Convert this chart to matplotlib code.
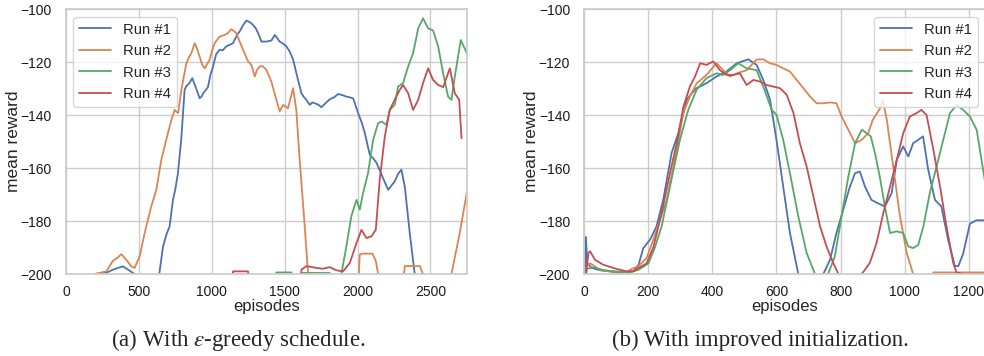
import matplotlib
matplotlib.use('Agg')
import matplotlib.pyplot as plt
import seaborn as sns

sns.set_theme(style='whitegrid')
plt.rcParams['font.family'] = ['Liberation Sans', 'DejaVu Sans']
plt.rcParams['mathtext.fontset'] = 'stix'

colors = ['#4C72B0', '#DD8452', '#55A868', '#C44E52']
labels = ['Run #1', 'Run #2', 'Run #3', 'Run #4']

# ---- (a) epsilon-greedy schedule: (episode, mean reward); values below -200 are off-axis
a_run1_x = [200, 277, 330, 391, 430, 471, 520, 620, 640, 666, 690, 711, 734, 750, 768, 791, 814, 826, 845, 867,
            880, 894, 917, 930, 942, 974, 990, 1009, 1030, 1054, 1075, 1100, 1120, 1146, 1170, 1191, 1215, 1237,
            1260, 1283, 1300, 1318, 1341, 1375, 1409, 1432, 1450, 1466, 1490, 1512, 1535, 1558, 1592, 1615, 1630,
            1649, 1672, 1690, 1706, 1730, 1752, 1780, 1809, 1840, 1867, 1900, 1924, 1950, 1970, 2004, 2030, 2050,
            2084, 2110, 2130, 2175, 2210, 2255, 2280, 2301, 2324, 2358, 2392, 2420]
a_run1_y = [-200, -199.5, -198.2, -197.1, -198.5, -200, -205, -205, -200, -189.6, -185, -182, -172, -168, -162,
            -149, -130.4, -129, -128, -126, -128, -130, -133.6, -133, -131.7, -129.4, -125, -121.6, -117, -115.3,
            -115.5, -114, -113.5, -112.8, -110, -108.4, -106, -104.3, -104.8, -105.9, -107, -109, -112.2, -112.2,
            -111.8, -109.7, -111, -112.2, -113, -114, -116, -119, -126.7, -131.7, -133, -134.2, -136.1, -135.2,
            -135.5, -136, -137, -135.5, -134, -133.2, -132, -132.5, -133, -133.3, -133.7, -139.2, -143, -146.8,
            -155, -156.5, -158, -163.8, -168.2, -165, -162, -160.6, -167, -184.5, -200, -210]

a_run2_x = [197, 277, 322, 350, 380, 414, 448, 471, 506, 530, 551, 585, 620, 654, 688, 723, 746, 769, 792, 810,
            826, 845, 860, 883, 900, 917, 935, 952, 985, 1000, 1020, 1054, 1089, 1110, 1135, 1169, 1190, 1215,
            1249, 1272, 1295, 1310, 1329, 1350, 1375, 1409, 1443, 1466, 1489, 1523, 1558, 1580, 1603, 1631, 1661,
            1680, 2000, 2015, 2030, 2102, 2125, 2141, 2160, 2300, 2324, 2427, 2449, 2470, 2630, 2644, 2701, 2750]
a_run2_y = [-200, -199, -195, -194, -192.5, -194.6, -197.1, -197.7, -193.3, -187, -182, -174.5, -168.2, -156.9,
            -149.3, -141.8, -138, -139.2, -130.4, -125, -120.4, -118, -116.6, -112.8, -115, -117.9, -121, -122.3,
            -119.1, -116, -112.8, -110.3, -109.7, -109, -107.5, -109, -112, -115.3, -119.7, -121, -125.4, -123,
            -121.6, -121.5, -122.9, -127.3, -134.2, -138.6, -136.1, -137.4, -129.8, -138, -156.9, -177, -200,
            -210, -210, -192.7, -192.3, -192.3, -195, -200, -210, -210, -197, -197, -200, -210, -210, -200, -184.5,
            -169]

a_run3_x = [1430, 1443, 1546, 1560, 1600, 1615, 1809, 1820, 1870, 1889, 1923, 1958, 1993, 2015, 2038, 2072,
            2107, 2141, 2164, 2198, 2221, 2255, 2278, 2312, 2347, 2381, 2416, 2449, 2484, 2518, 2553, 2587, 2621,
            2644, 2667, 2708, 2750]
a_run3_y = [-210, -199.4, -199.4, -210, -210, -199.6, -199.6, -210, -210, -200, -189.6, -178, -172, -175.7,
            -169.4, -161.9, -149.3, -143, -142.4, -143.6, -138, -136.1, -129.2, -127.9, -121.6, -116.6, -107.2,
            -103.4, -107.2, -108, -114, -124.2, -133, -134.2, -125.4, -111.6, -116.6]

a_run4_x = [1130, 1146, 1249, 1265, 1600, 1615, 1649, 1718, 1763, 1809, 1855, 1901, 1947, 1993, 2027, 2061,
            2095, 2125, 2152, 2187, 2221, 2255, 2290, 2312, 2347, 2381, 2416, 2449, 2484, 2518, 2553, 2587, 2633,
            2667, 2697, 2713]
a_run4_y = [-210, -199, -199, -210, -210, -198.4, -197, -197.7, -198, -197.4, -198.6, -199, -195.8, -188.3,
            -183.3, -186.4, -185.8, -183.3, -164.4, -148, -138, -134.2, -130.4, -128.6, -131.7, -138, -134.2,
            -127.9, -122.3, -126.7, -128.6, -129.4, -122.3, -131.7, -134.2, -148.7]

# ---- (b) improved initialization
b_run1_x = [2, 6, 10, 24, 50, 91, 123, 154, 170, 185, 206, 226, 247, 273, 294, 320, 336, 351, 382, 413, 444,
            476, 512, 538, 559, 580, 600, 621, 642, 668, 690, 730, 746, 767, 787, 808, 829, 845, 860, 876, 896,
            917, 938, 959, 975, 995, 1011, 1026, 1042, 1057, 1073, 1094, 1114, 1135, 1156, 1167, 1182, 1203,
            1223, 1250]
b_run1_y = [-210, -186, -195.8, -197.7, -198.6, -199, -199.2, -199, -196.5, -190.2, -187, -182, -172, -154.3,
            -146.8, -134.2, -131.7, -129.8, -127.9, -125.4, -123.5, -120.4, -118.9, -121, -126.7, -134.2, -149.3,
            -167, -184.5, -200, -210, -210, -200, -194.6, -184.5, -175.7, -167, -161.9, -161.3, -167, -172,
            -173.3, -174.5, -169.4, -156.9, -151.8, -155.6, -150.6, -149.3, -148, -160.6, -172, -174.5, -187,
            -197, -197, -192.3, -181, -179.7, -179.7]

b_run2_x = [2, 8, 20, 50, 100, 130, 150, 170, 195, 216, 237, 258, 289, 310, 330, 351, 382, 413, 434, 455, 476,
            507, 538, 559, 580, 600, 621, 642, 663, 684, 705, 725, 746, 767, 787, 803, 824, 845, 866, 886, 900,
            923, 931, 944, 964, 985, 1006, 1026, 1045, 1075, 1089, 1250]
b_run2_y = [-210, -197, -196, -198.5, -199.5, -199.5, -198, -197, -194, -187, -179.5, -172, -153, -139, -133,
            -128, -124.8, -120.4, -123, -125.4, -124.2, -123, -119, -118.9, -120.4, -121, -122.3, -123.5, -126.7,
            -129.8, -133, -135.5, -135.5, -135.2, -135.5, -140.5, -145.5, -150.6, -149.3, -146.8, -141.8, -137.4,
            -134.2, -141.8, -159.4, -178.2, -192, -200, -210, -210, -199.4, -199.4]

b_run3_x = [2, 8, 30, 60, 100, 140, 170, 201, 221, 242, 268, 299, 325, 351, 382, 413, 434, 455, 481, 507, 538,
            559, 585, 600, 621, 642, 668, 694, 720, 735, 750, 761, 782, 803, 824, 845, 866, 881, 894, 907, 922,
            938, 954, 975, 995, 1011, 1026, 1042, 1058, 1078, 1099, 1120, 1141, 1162, 1182, 1203, 1224, 1250]
b_run3_y = [-210, -198, -197.5, -198.5, -199.2, -199.4, -198.4, -196, -190, -182, -167, -149.3, -138, -130.4,
            -126, -124.2, -124.8, -123, -120.4, -122.3, -123, -129.2, -138, -139.8, -149.3, -161.9, -178.2, -192,
            -200, -210, -210, -200, -193.3, -178.2, -163.2, -150.6, -145.5, -146.8, -148, -154.3, -163.2, -174.5,
            -184.5, -183.9, -184.5, -189.6, -190.2, -189, -182, -169.4, -159.4, -149.3, -139.2, -136.1, -138,
            -140.5, -145.5, -165]

b_run4_x = [2, 6, 14, 19, 34, 60, 102, 133, 154, 170, 195, 216, 242, 268, 289, 310, 330, 346, 362, 382, 403,
            424, 444, 465, 486, 507, 528, 549, 569, 590, 611, 632, 653, 673, 694, 715, 736, 756, 777, 793, 810,
            850, 866, 891, 912, 933, 954, 975, 995, 1016, 1037, 1052, 1068, 1089, 1110, 1130, 1151, 1161, 1182,
            1250]
b_run4_y = [-210, -200, -192, -191.4, -194.6, -196.5, -198.1, -199, -199, -197.7, -196, -190, -177, -161.9,
            -150.6, -136.8, -129.2, -125.4, -120.4, -121, -119.7, -123, -124.8, -124.8, -124.2, -128.6, -126.7,
            -127.3, -128.6, -129.2, -129.8, -132.3, -139.2, -150.6, -159.4, -170.7, -182, -189.6, -195.8, -200,
            -210, -210, -200, -195.8, -188.3, -177, -167, -156.9, -146.8, -140.5, -139.2, -138, -140, -153, -167,
            -182, -195.8, -199.4, -200, -200]

panel_a = [(a_run1_x, a_run1_y), (a_run2_x, a_run2_y), (a_run3_x, a_run3_y), (a_run4_x, a_run4_y)]
panel_b = [(b_run1_x, b_run1_y), (b_run2_x, b_run2_y), (b_run3_x, b_run3_y), (b_run4_x, b_run4_y)]


def draw(ax, runs, xmax, ticks, loc):
    for (x, y), c, lab in zip(runs, colors, labels):
        ax.plot(x, y, color=c, lw=1.3, label=lab)
    ax.set_xlim(0, xmax)
    ax.set_ylim(-200, -100)
    ax.set_xticks(ticks)
    ax.set_yticks([-200, -180, -160, -140, -120, -100])
    ax.tick_params(labelsize=10, pad=4, labelcolor='#1a1a1a')
    ax.tick_params(axis='x', pad=2)
    ax.set_xlabel('episodes', fontsize=12, labelpad=0)
    ax.set_ylabel('mean reward', fontsize=12.5, labelpad=0)
    ax.legend(loc=loc, fontsize=10.7, handlelength=2.15, borderaxespad=0.5)


fig = plt.figure(figsize=(9.84, 3.56), dpi=100)
ax1 = fig.add_axes([0.067, 0.2303, 0.4075, 0.7436])
ax2 = fig.add_axes([0.5935, 0.2303, 0.4075, 0.7436])
draw(ax1, panel_a, 2750, [0, 500, 1000, 1500, 2000, 2500], 'upper left')
draw(ax2, panel_b, 1250, [0, 200, 400, 600, 800, 1000, 1200], 'upper right')

fig.text(0.242, 0.045, r'(a) With $\epsilon$-greedy schedule.', ha='center', va='center',
         family='Liberation Serif', fontsize=16.5)
fig.text(0.773, 0.045, '(b) With improved initialization.', ha='center', va='center',
         family='Liberation Serif', fontsize=16.5)

fig.savefig('out.png', dpi=100)
